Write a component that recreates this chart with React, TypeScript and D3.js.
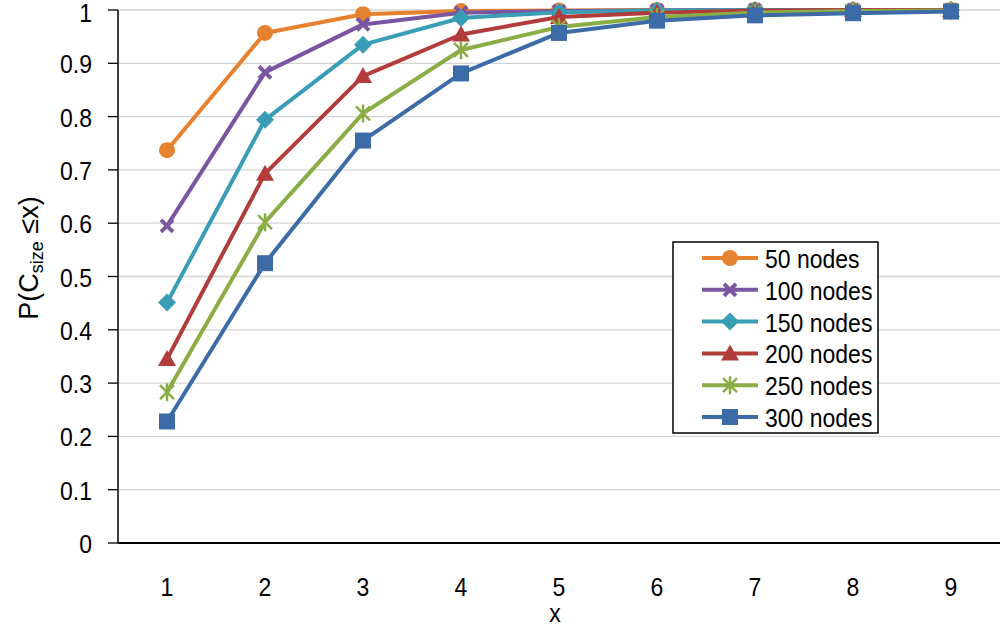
import React from "react";
import * as d3 from "d3";

const categories = ["1", "2", "3", "4", "5", "6", "7", "8", "9"];
const yTicks = [0, 0.1, 0.2, 0.3, 0.4, 0.5, 0.6, 0.7, 0.8, 0.9, 1];

const nodes50 = [0.737, 0.957, 0.992, 0.998, 0.999, 1, 1, 1, 1];
const nodes100 = [0.595, 0.883, 0.973, 0.995, 0.998, 0.999, 1, 1, 1];
const nodes150 = [0.451, 0.794, 0.935, 0.985, 0.996, 0.999, 1, 1, 1];
const nodes200 = [0.345, 0.693, 0.876, 0.954, 0.987, 0.995, 0.999, 1, 1];
const nodes250 = [0.283, 0.602, 0.806, 0.925, 0.968, 0.987, 0.995, 0.998, 0.999];
const nodes300 = [0.228, 0.525, 0.755, 0.881, 0.957, 0.980, 0.990, 0.994, 0.997];

const seriesNames = ["50 nodes", "100 nodes", "150 nodes", "200 nodes", "250 nodes", "300 nodes"];
const seriesData = [nodes50, nodes100, nodes150, nodes200, nodes250, nodes300];
const colors = ["#E6822F", "#7A55A0", "#3A9DB6", "#B23C3A", "#8AAE45", "#3C6BA8"];
const markers = ["circle", "x", "diamond", "triangle", "asterisk", "square"];

const FONT = "'Liberation Sans', Arial, sans-serif";
const SX = 0.92;

function T({
  x,
  y,
  anchor = "start",
  size = 25,
  dy = "0.36em",
  children,
}: {
  x: number;
  y: number;
  anchor?: string;
  size?: number;
  dy?: string;
  children: React.ReactNode;
}) {
  return (
    <g transform={`translate(${x},${y}) scale(${SX},1)`}>
      <text textAnchor={anchor as any} fontSize={size} dy={dy} fill="#000">
        {children}
      </text>
    </g>
  );
}

function Marker({ type, x, y, color }: { type: string; x: number; y: number; color: string }) {
  switch (type) {
    case "circle":
      return <circle cx={x} cy={y} r={8} fill={color} />;
    case "square":
      return <rect x={x - 8} y={y - 8} width={16} height={16} fill={color} />;
    case "diamond":
      return <path d={`M${x},${y - 9}L${x + 9},${y}L${x},${y + 9}L${x - 9},${y}Z`} fill={color} />;
    case "triangle":
      return <path d={`M${x},${y - 9}L${x + 9},${y + 7}L${x - 9},${y + 7}Z`} fill={color} />;
    case "x":
      return (
        <path
          d={`M${x - 6},${y - 6}L${x + 6},${y + 6}M${x + 6},${y - 6}L${x - 6},${y + 6}`}
          stroke={color}
          strokeWidth={4}
        />
      );
    case "asterisk":
      return (
        <path
          d={`M${x - 7},${y - 7}L${x + 7},${y + 7}M${x + 7},${y - 7}L${x - 7},${y + 7}M${x},${y - 9}L${x},${y + 9}`}
          stroke={color}
          strokeWidth={2.5}
        />
      );
    default:
      return null;
  }
}

export default function App() {
  const width = 1000;
  const height = 628;
  const left = 118;
  const right = 1000;
  const top = 10;
  const bottom = 543;

  const x = d3.scalePoint<string>().domain(categories).range([left, right]).padding(0.5);
  const y = d3.scaleLinear().domain([0, 1]).range([bottom, top]);

  const line = d3
    .line<number>()
    .x((_, i) => x(categories[i]) as number)
    .y((d) => y(d));

  const legendX = 673;
  const legendY = 242;
  const legendW = 205;
  const legendH = 191;
  const rowH = 31.8;

  return (
    <svg
      width={width}
      height={height}
      style={{ position: "absolute", left: 0, top: 0, display: "block", background: "#fff" }}
      fontFamily={FONT}
    >
      {/* gridlines */}
      {yTicks.slice(1).map((t) => (
        <line key={t} x1={left} x2={right} y1={y(t)} y2={y(t)} stroke="#D4D4D4" strokeWidth={1.3} />
      ))}
      {/* y axis */}
      <line x1={left} x2={left} y1={top} y2={bottom} stroke="#000" strokeWidth={1.5} />
      {yTicks.map((t) => (
        <g key={t}>
          <line x1={left - 10} x2={left} y1={y(t)} y2={y(t)} stroke="#000" strokeWidth={1.3} />
          <T x={92} y={Math.max(y(t) + 1, 13)} anchor="end">
            {d3.format("~g")(t)}
          </T>
        </g>
      ))}
      {/* x axis */}
      <line x1={left} x2={right} y1={bottom} y2={bottom} stroke="#000" strokeWidth={2} />
      {categories.map((c) => (
        <T key={c} x={x(c) as number} y={587} anchor="middle">
          {c}
        </T>
      ))}
      <T x={555} y={622} anchor="middle" dy="0">
        x
      </T>
      <g transform="translate(38,258) rotate(-90)">
        <text textAnchor="middle" fontSize={27} fill="#000">
          P(C<tspan fontSize={18} dy={5}>size</tspan>
          <tspan dy={-5}> ≤x)</tspan>
        </text>
      </g>

      {/* series */}
      {seriesData.map((data, si) => (
        <g key={seriesNames[si]}>
          <path d={line(data) || ""} fill="none" stroke={colors[si]} strokeWidth={4} strokeLinejoin="round" />
          {data.map((v, i) => (
            <Marker key={i} type={markers[si]} x={x(categories[i]) as number} y={y(v)} color={colors[si]} />
          ))}
        </g>
      ))}

      {/* legend */}
      <rect x={legendX} y={legendY} width={legendW} height={legendH} fill="#fff" stroke="#000" strokeWidth={1.5} />
      {seriesNames.map((name, si) => {
        const cy = legendY + 16 + si * rowH;
        return (
          <g key={name}>
            <line x1={702} x2={758} y1={cy} y2={cy} stroke={colors[si]} strokeWidth={4} />
            <Marker type={markers[si]} x={730} y={cy} color={colors[si]} />
            <T x={765} y={cy + 1}>
              {name}
            </T>
          </g>
        );
      })}
    </svg>
  );
}
